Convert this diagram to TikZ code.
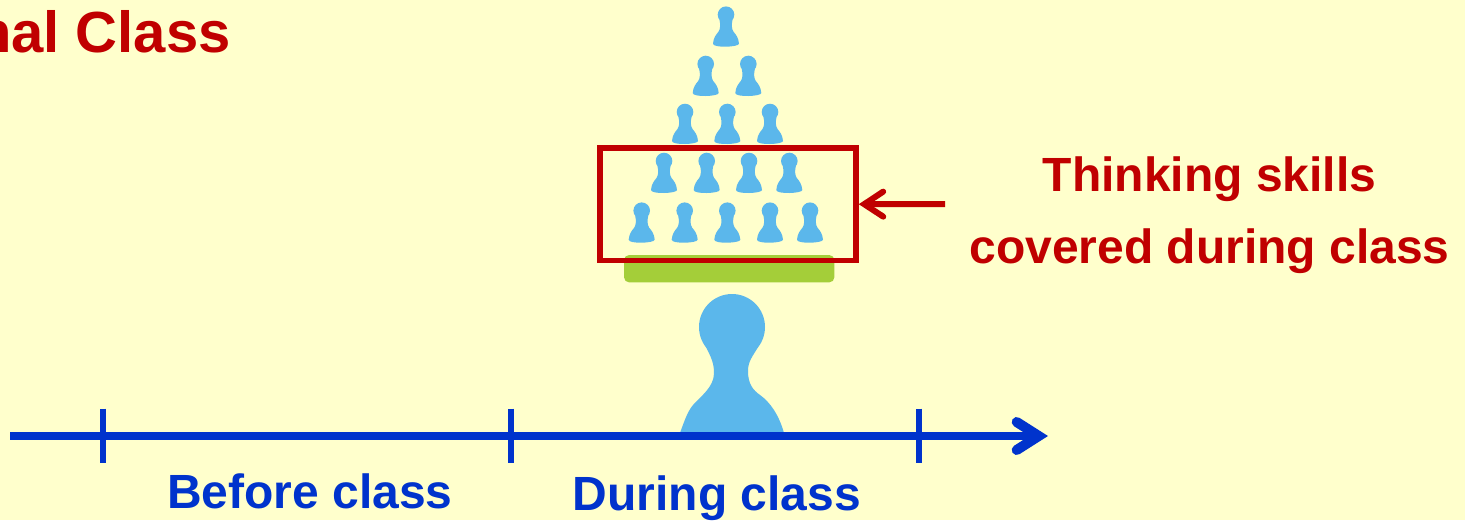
\documentclass[tikz,border=0pt]{standalone}
\usepackage{fontspec}
\setmainfont{Liberation Sans}
\usetikzlibrary{arrows.meta}
\definecolor{paper}{HTML}{FFFFCC}
\definecolor{pawnblue}{HTML}{5BB7EB}
\definecolor{padgreen}{HTML}{A4CE39}
\definecolor{darkred}{HTML}{C00000}
\definecolor{axisblue}{HTML}{0033CC}
\tikzstyle{redlabel} = [text=darkred, font=\fontsize{48}{72}\selectfont\bfseries, align=center]
\tikzstyle{bluelabel} = [text=axisblue, font=\fontsize{48}{55}\selectfont\bfseries, anchor=base]
\tikzstyle{axisline} = [draw=axisblue, line width=8pt]
\tikzstyle{ticks} = [draw=axisblue, line width=6pt]
\newcommand{\smallPawn}[2]{
	\fill[pawnblue, shift={(#1,#2)}] (0,0) circle (8.3pt);
	\fill[pawnblue, shift={(#1,#2)}]
		(-13,29) .. controls (-12.5,23) and (-10,20) .. (-7.5,17) .. controls (-5.5,14) and (-5.5,10) .. (-6.5,5)
		-- (6.5,5) .. controls (5.5,10) and (5.5,14) .. (7.5,17) .. controls (10,20) and (12.5,23) .. (13,29)
		.. controls (13,32.5) and (-13,33.5) .. (-13,29) -- cycle;
}
\begin{document}
\begin{tikzpicture}[x=1pt, y=-1pt]
	\useasboundingbox (0,0) rectangle (1465,520);
	\fill[paper] (0,0) rectangle (1465,520);
	\node (title) at (231,52) [anchor=base east, text=darkred, font=\fontsize{58}{60}\selectfont\bfseries, inner sep=0pt] {nal Class};

	% pawns on the pile
	\smallPawn{726}{14.7}
	\foreach \pawnx in {705.7,748.3} {\smallPawn{\pawnx}{64}}
	\foreach \pawnx in {685,727.3,770} {\smallPawn{\pawnx}{112}}
	\foreach \pawnx in {664,706.7,749,789.3} {\smallPawn{\pawnx}{161}}
	\foreach \pawnx in {641.7,684.7,727.3,770,810} {\smallPawn{\pawnx}{210.7}}

	% teacher
	\fill[pawnblue] (732,327) circle (33pt);
	\fill[pawnblue, shift={(732,327)}]
		(-52,106) .. controls (-47,92) and (-44,84) .. (-39,78) .. controls (-31,69) and (-18,60) .. (-18,46)
		.. controls (-18,36) and (-21,30) .. (-26,20) -- (26,20) .. controls (21,29) and (16,34) .. (16,44)
		.. controls (16,57) and (21,63) .. (28,68) .. controls (38,75) and (47,88) .. (52,106) -- cycle;

	\node (pad) at (729.2,268.7) [fill=padgreen, rounded corners=5pt, minimum width=210.3pt, minimum height=27.3pt, inner sep=0pt] {};
	\node (thinkingBox) at (728,204.2) [draw=darkred, line width=5.5pt, minimum width=256pt, minimum height=112.5pt, inner sep=0pt] {};

	\node (skills) at (1209.5,215) [redlabel] {Thinking skills\\covered during class};
	\coordinate (arrowTail) at (945,204);
	\draw[draw=darkred, line width=6pt, -{Straight Barb[line cap=round, line join=miter, length=19pt, width=25pt]}] (arrowTail) -- (thinkingBox.east);

	% time line
	\coordinate (axisStart) at (10,436);
	\coordinate (axisEnd) at (1048,436);
	\draw[axisline, -{Straight Barb[line cap=round, line join=miter, length=22pt, width=28pt, line width=10pt]}] (axisStart) -- (axisEnd);
	\foreach \tickx in {102.5,511,919} {
		\draw[ticks] (\tickx,408.5) -- (\tickx,462.5);
	}
	\node (before) at (310,508) [bluelabel] {Before class};
	\node (during) at (717,510) [bluelabel] {During class};
\end{tikzpicture}
\end{document}
